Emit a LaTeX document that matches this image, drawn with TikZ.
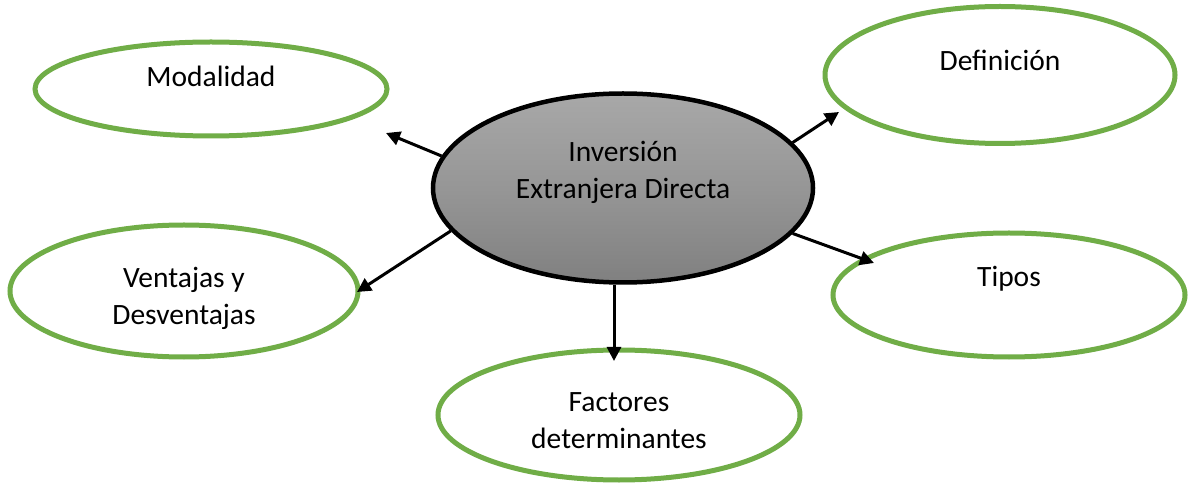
\documentclass[tikz,border=0pt]{standalone}
\usepackage{fontspec}
\setmainfont{Carlito}
\usetikzlibrary{shapes.geometric,arrows.meta}
\definecolor{lgreen}{RGB}{112,173,71}
\definecolor{gtop}{RGB}{168,168,168}
\definecolor{gmid}{RGB}{150,150,150}
\definecolor{gbot}{RGB}{128,128,128}
\tikzset{
  topic/.style={ellipse, draw=lgreen, line width=5bp, fill=white, inner sep=0pt},
  hub/.style={ellipse, draw=black, line width=4.5bp, top color=gtop, bottom color=gbot, middle color=gmid, inner sep=0pt},
  lbl/.style={font=\fontsize{29.5bp}{37bp}\selectfont, align=center, text=black},
  link/.style={line width=3bp, -{Triangle[length=14bp,width=14bp]}}
}
\begin{document}
\begin{tikzpicture}[x=1bp,y=-1bp]
\useasboundingbox (0,0) rectangle (1197,484);
\node[topic, minimum width=352bp, minimum height=94bp,
  label={[lbl,yshift=13bp]center:Modalidad}] (mod) at (211,89) {};
\node[topic, minimum width=350bp, minimum height=137bp,
  label={[lbl,yshift=15bp]center:Definición}] (def) at (1000,75) {};
\node[topic, minimum width=348bp, minimum height=132bp,
  label={[lbl,yshift=-7bp]center:Ventajas y\\Desventajas}] (ven) at (184,291) {};
\node[topic, minimum width=352bp, minimum height=124bp,
  label={[lbl,yshift=16bp]center:Tipos}] (tip) at (1009,295) {};
\node[topic, minimum width=362bp, minimum height=130bp,
  label={[lbl,yshift=-6bp]center:Factores\\determinantes}] (fac) at (619,415) {};
\node[hub, minimum width=380bp, minimum height=189bp,
  label={[lbl,yshift=16bp]center:Inversión\\Extranjera Directa}] (ied) at (623,188) {};
\coordinate (tmod) at (386,133);
\coordinate (tdef) at (839,112);
\coordinate (tven) at (357,292);
\coordinate (ttip) at (874,263);
\coordinate (tfac) at (614,361);
\draw[link] (ied.170) -- (tmod);
\draw[link] (ied.15.5) -- (tdef);
\draw[link] (ied.194.5) -- (tven);
\draw[link] (ied.-15) -- (ttip);
\draw[link] (ied.south -| tfac) -- (tfac);
\end{tikzpicture}
\end{document}
